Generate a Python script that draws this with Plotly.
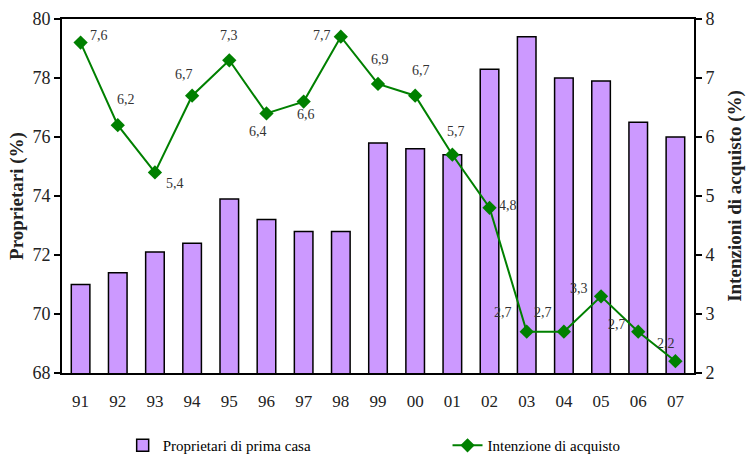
import plotly.graph_objects as go

# Years (two-digit labels) and the two series
years = ["91", "92", "93", "94", "95", "96", "97", "98", "99",
         "00", "01", "02", "03", "04", "05", "06", "07"]
proprietari = [71.0, 71.4, 72.1, 72.4, 73.9, 73.2, 72.8, 72.8, 75.8,
               75.6, 75.4, 78.3, 79.4, 78.0, 77.9, 76.5, 76.0]
intenzione = [7.6, 6.2, 5.4, 6.7, 7.3, 6.4, 6.6, 7.7, 6.9,
              6.7, 5.7, 4.8, 2.7, 2.7, 3.3, 2.7, 2.2]

# Pixel offsets of each value label relative to its marker
label_dx = [18, 8, 20, -8, 0, -8, 2, -19, 2, 6, 4, 18, -24, -21, -22, -21, -9]
label_dy = [7, 26, -11, 21, 25, -18, -13, 1, 24, 25, 23, 2, 19, 19, 8, 7, 18]

FONT = "Liberation Serif"

fig = go.Figure()
fig.add_trace(go.Bar(
    x=years, y=proprietari, name="Proprietari di prima casa",
    marker=dict(color="#CC99FF", line=dict(color="black", width=1.5)),
    width=0.5, legend="legend", showlegend=True,
))
fig.add_trace(go.Scatter(
    x=years, y=intenzione, name="Intenzione di acquisto", yaxis="y2",
    mode="lines+markers",
    line=dict(color="#008000", width=2),
    marker=dict(symbol="diamond", size=11, color="#008000"),
    legend="legend2", showlegend=True,
))

# Value labels; category index is used so numeric-looking labels stay on their bar
for i, (v, dx, dy) in enumerate(zip(intenzione, label_dx, label_dy)):
    fig.add_annotation(
        x=i, y=v, yref="y2", text=f"{v:.1f}".replace(".", ","),
        showarrow=False, xshift=dx, yshift=dy,
        font=dict(family=FONT, size=14, color="#333333"),
    )

fig.update_layout(
    width=746, height=457,
    showlegend=True,
    margin=dict(l=62, r=52, t=19, b=84, autoexpand=False),
    paper_bgcolor="white", plot_bgcolor="white",
    font=dict(family=FONT, size=16, color="#222222"),
    xaxis=dict(
        type="category", range=[-0.5, len(years) - 0.5], autorange=False,
        categoryorder="array", categoryarray=years,
        tickmode="array", tickvals=years, ticktext=years,
        showgrid=False, ticks="",
        showline=True, linecolor="black", linewidth=2, mirror=True,
        tickfont=dict(size=17), ticklabelstandoff=12,
    ),
    yaxis=dict(
        range=[68, 80], dtick=2, showgrid=False, zeroline=False,
        showline=True, linecolor="black", linewidth=2,
        ticks="outside", ticklen=6, tickwidth=2, tickcolor="black",
        tickfont=dict(size=18),
        title=dict(text="<b>Proprietari (%)</b>", font=dict(size=19), standoff=4),
    ),
    yaxis2=dict(
        range=[2, 8], dtick=1, overlaying="y", side="right",
        showgrid=False, zeroline=False,
        showline=True, linecolor="black", linewidth=2,
        ticks="outside", ticklen=6, tickwidth=2, tickcolor="black",
        tickfont=dict(size=18),
        title=dict(text="<b>Intenzioni di acquisto (%)</b>", font=dict(size=19), standoff=14),
    ),
    legend=dict(
        orientation="h", x=0.096, xanchor="left", yanchor="middle", y=-0.205,
        font=dict(size=15, color="black"), bgcolor="rgba(0,0,0,0)",
    ),
    legend2=dict(
        orientation="h", x=0.61, xanchor="left", yanchor="middle", y=-0.205,
        font=dict(size=15, color="black"), bgcolor="rgba(0,0,0,0)",
    ),
)

fig.write_html("out.html")
